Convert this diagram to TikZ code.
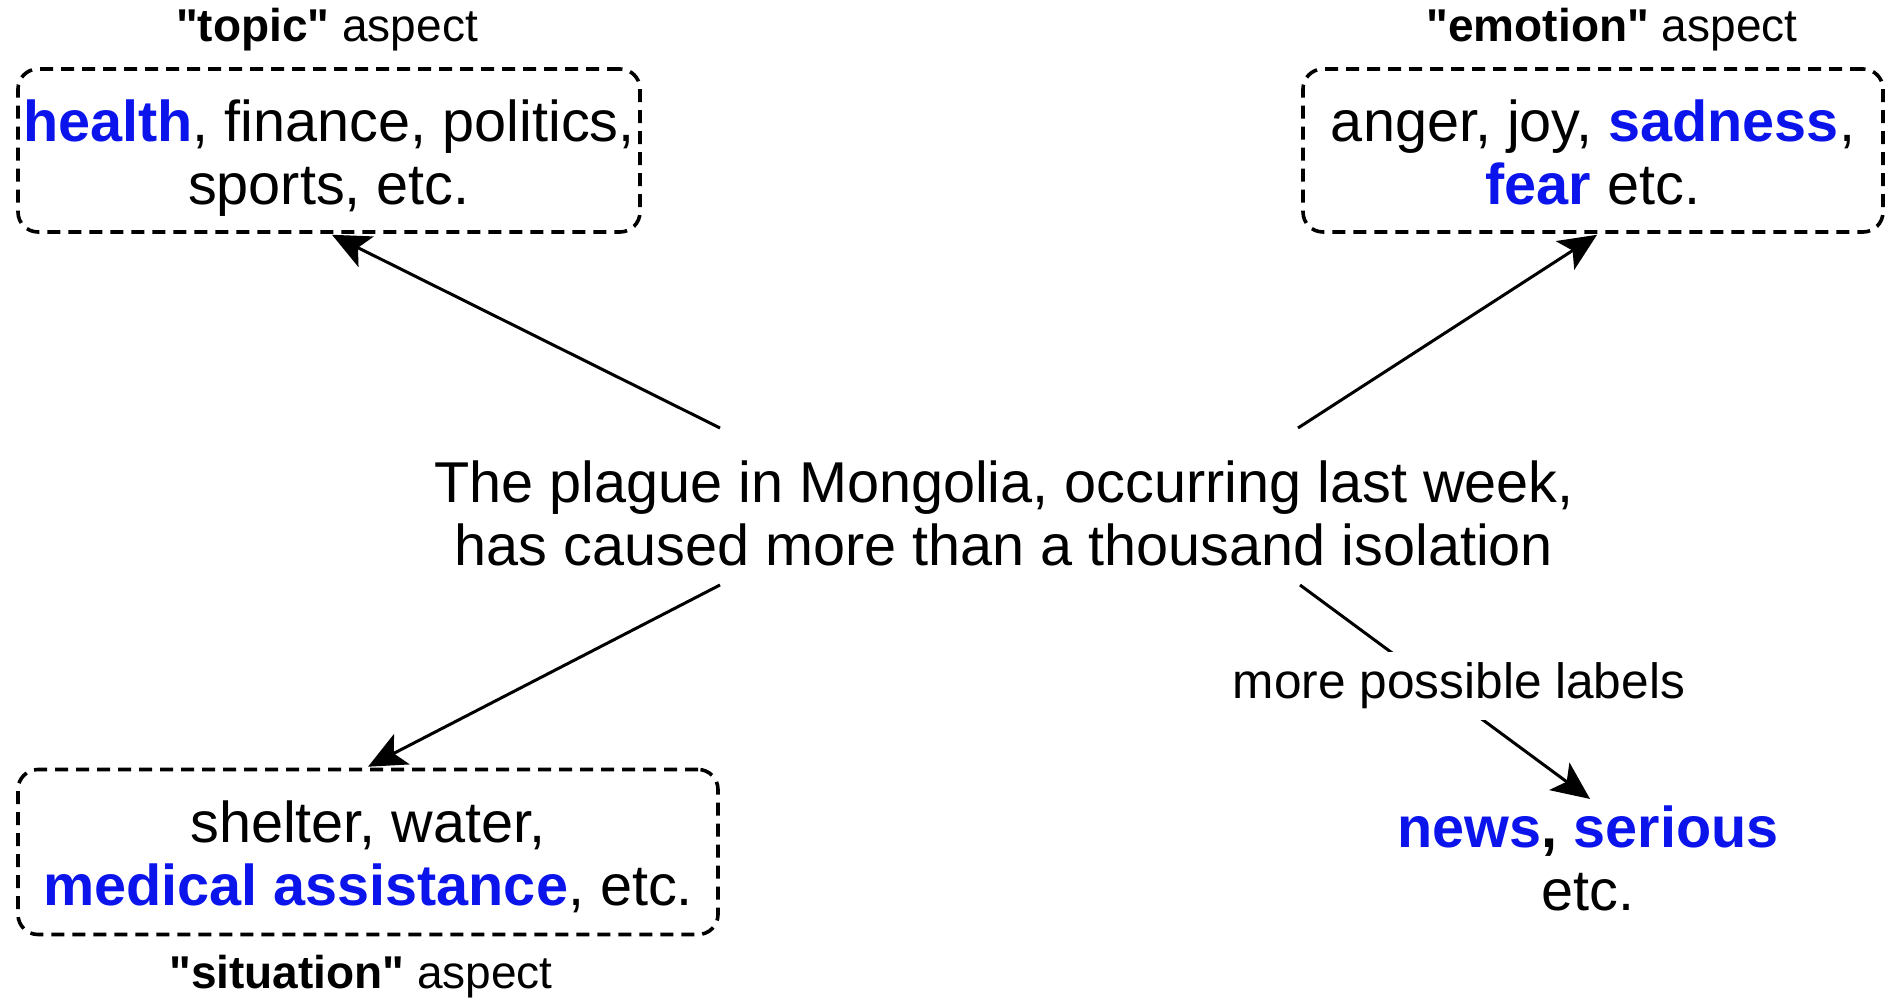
\documentclass[tikz,border=0pt]{standalone}
\usepackage{fontspec}
\setmainfont{Liberation Sans}[Ligatures=TeXOff]
\usetikzlibrary{arrows.meta,calc}
\definecolor{lblue}{RGB}{10,20,235}
\newcommand{\hl}[1]{\textbf{\color{lblue}#1}}
\begin{document}
\begin{tikzpicture}[x=0.5pt,y=-0.5pt,
  txt/.style={font=\fontsize{28.8}{31.5}\selectfont, align=center, inner sep=0pt},
  aspect/.style={font=\fontsize{23}{27}\selectfont, inner sep=0pt},
  dbox/.style={draw, dash pattern=on 6.5pt off 4pt, line width=1.8pt, rounded corners=10pt, inner sep=0pt},
  arr/.style={line width=1.5pt, -{Stealth[length=19pt,width=17pt,inset=4.5pt]}},
]
\useasboundingbox (0,0) rectangle (1886,1004);

% top-left
\node[aspect] (topiclbl) at (327,30) {\textbf{"topic"} aspect};
\node[dbox, minimum width=311pt, minimum height=81.5pt] (topic) at (329,150.5) {};
\node[txt] (topictxt) at ($(topic.center)+(0,10)$)
  {\strut\hl{health}, finance, politics,\\ \strut sports, etc.};

% top-right
\node[aspect] (emolbl) at (1612,30) {\textbf{"emotion"} aspect};
\node[dbox, minimum width=290pt, minimum height=81.5pt] (emo) at (1593,150.5) {};
\node[txt] (emotxt) at ($(emo.center)+(0,10)$)
  {\strut anger, joy, \hl{sadness},\\ \strut\hl{fear} etc.};

% centre
\node[txt] (main) at (1004,513)
  {The plague in Mongolia, occurring last week,\\ has caused more than a thousand isolation};

% bottom-left
\node[dbox, minimum width=350pt, minimum height=82.5pt] (sit) at (368,852) {};
\node[txt] (sittxt) at ($(sit.center)+(0,9)$)
  {\strut shelter, water,\\ \strut\hl{medical assistance}, etc.};
\node[aspect] (sitlbl) at (361,977) {\textbf{"situation"} aspect};

% bottom-right
\node[txt] (news) at (1588,858) {\textbf{\color{lblue}news\color{black}, \color{lblue}serious}\\ etc.};

% arrow start points
\coordinate (s1) at (720,428);
\coordinate (s2) at (1298,428);
\coordinate (s3) at (720,585);
\coordinate (s4) at (1300,585);

\draw[arr] (s1) -- ($(topic.south)+(3,1)$);
\draw[arr] (s2) -- ($(emo.south)+(4,1)$);
\draw[arr] (s3) -- ($(sit.north)+(0,-1)$);
\draw[arr] (s4) -- ($(news.north)+(2,-6)$);

\node[font=\fontsize{24.8}{28}\selectfont, fill=white, inner xsep=4pt, inner ysep=5.5pt] (more) at (1459,686) {more possible labels};
\end{tikzpicture}
\end{document}
